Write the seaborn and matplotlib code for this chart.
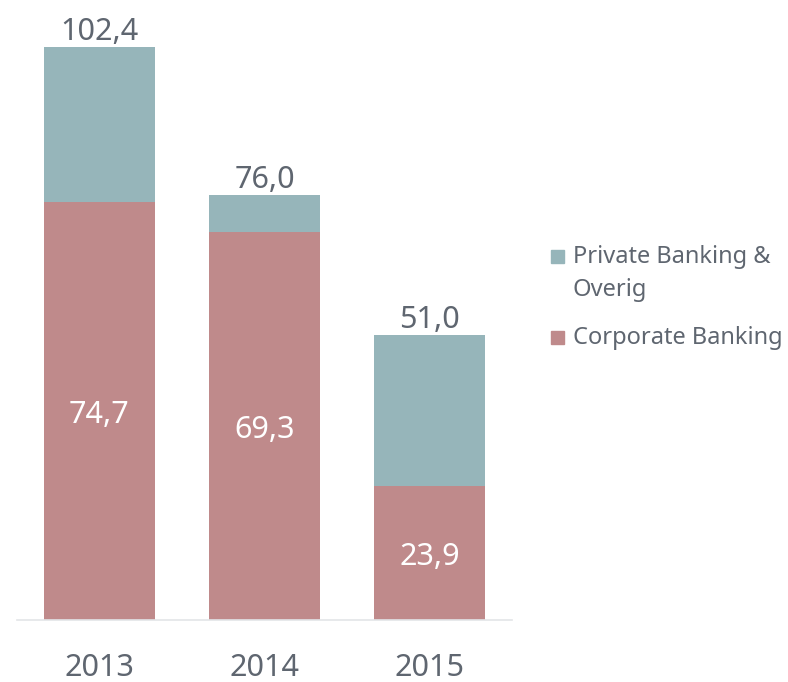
import numpy as np
import pandas as pd
import seaborn as sns
import matplotlib.pyplot as plt
from matplotlib.patches import Rectangle

years = ["2013", "2014", "2015"]
corporate = [74.7, 69.3, 23.9]
private = [27.7, 6.7, 27.1]
totals = [102.4, 76.0, 51.0]

teal = "#96b5ba"
rose = "#bf8a8b"
grey_txt = "#5f6670"

sns.set_theme(style="white")
plt.rcParams["font.family"] = ["Noto Sans", "DejaVu Sans"]

df = pd.DataFrame({"year": years, "corporate": corporate, "private": private, "total": totals})

fig = plt.figure(figsize=(7.88, 6.82), dpi=100)
ax = fig.add_axes([17 / 788, 62 / 682, 495 / 788, 620 / 682])

sns.barplot(data=df, x="year", y="total", color=teal, width=0.667, saturation=1,
            linewidth=0, ax=ax)
sns.barplot(data=df, x="year", y="corporate", color=rose, width=0.667, saturation=1,
            linewidth=0, ax=ax)

ax.set_xlim(-0.5, 2.5)
ax.set_ylim(0, 110.8)

def fmt(v):
    return f"{v:.1f}".replace(".", ",")

for i, row in df.iterrows():
    ax.annotate(fmt(row["total"]), (i, row["total"]), xytext=(0, 0), textcoords="offset points",
                ha="center", va="bottom", fontsize=22, color=grey_txt)
    ax.text(i, row["corporate"] / 2, fmt(row["corporate"]), ha="center", va="center_baseline",
            fontsize=22, color="white")

ax.set_xlabel("")
ax.set_ylabel("")
ax.set_yticks([])
ax.tick_params(axis="x", length=0, pad=24, labelsize=22, labelcolor=grey_txt)
for s in ["top", "right", "left"]:
    ax.spines[s].set_visible(False)
ax.spines["bottom"].set_color("#e3e5e8")
ax.spines["bottom"].set_linewidth(1.2)

# legend drawn by hand so the square sits on the first line of the wrapped label
W, H = 788, 682
for ytop, col in [(250, teal), (331, rose)]:
    fig.patches.append(Rectangle((551 / W, 1 - (ytop + 13) / H), 13 / W, 13 / H,
                                 transform=fig.transFigure, color=col))
fig.text(573 / W, 1 - 273.5 / H, "Private Banking &\nOverig", ha="left", va="center",
         fontsize=17, color=grey_txt, linespacing=1.45)
fig.text(573 / W, 1 - 338 / H, "Corporate Banking", ha="left", va="center",
         fontsize=17, color=grey_txt)

fig.savefig("out.png", dpi=100)
